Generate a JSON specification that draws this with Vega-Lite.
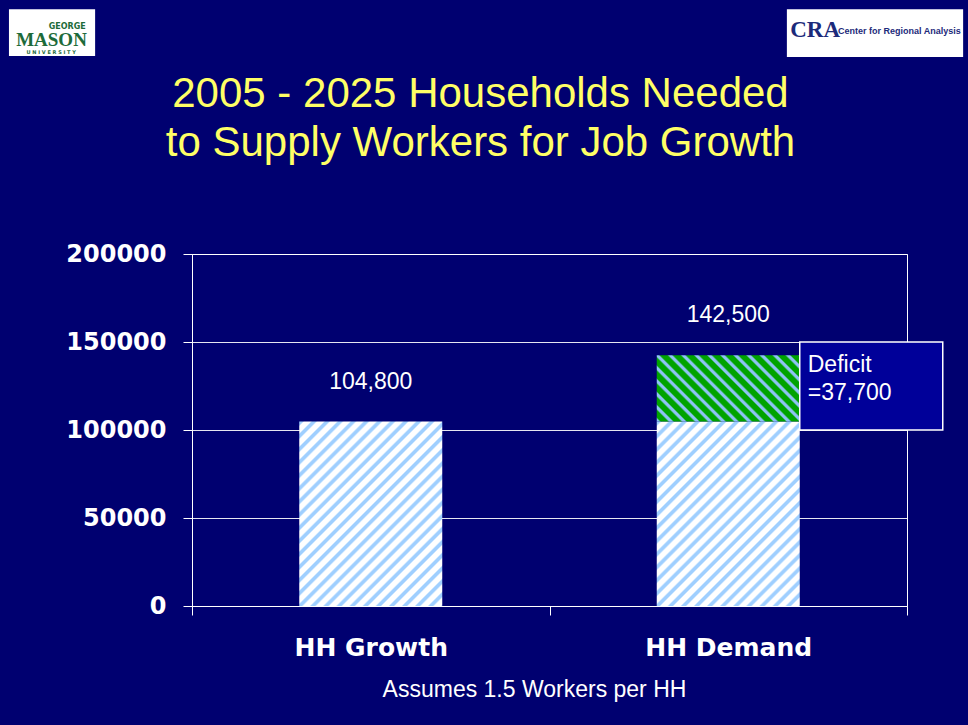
{
  "$schema": "https://vega.github.io/schema/vega-lite/v6.json",
  "width": 715,
  "height": 352,
  "autosize": "none",
  "padding": {"left": 192, "top": 254, "right": 61, "bottom": 119},
  "background": "#000070",
  "config": {
    "font": "Liberation Sans",
    "numberFormat": "d",
    "view": {"stroke": "#ffffff", "strokeWidth": 1, "fill": "#000070"},
    "axisY": {
      "labelFont": "DejaVu Sans",
      "labelFontWeight": "bold",
      "labelFontSize": 24,
      "labelColor": "#ffffff",
      "labelPadding": 17,
      "tickColor": "#ffffff",
      "tickSize": 9,
      "tickCount": 4,
      "domainColor": "#ffffff",
      "grid": true,
      "gridColor": "#ffffff",
      "gridOpacity": 0.9
    }
  },
  "title": {
    "text": ["2005 - 2025 Households Needed", "to Supply Workers for Job Growth"],
    "color": "#ffff66",
    "font": "Liberation Sans",
    "fontSize": 42,
    "fontWeight": "normal",
    "lineHeight": 49,
    "anchor": "middle",
    "baseline": "bottom",
    "dx": -69,
    "offset": -198
  },
  "data": {
    "values": [
      {"category": "HH Growth", "segment": "Growth", "value": 104800},
      {"category": "HH Demand", "segment": "Growth", "value": 104800},
      {"category": "HH Demand", "segment": "Deficit", "value": 37700}
    ]
  },
  "transform": [
    {"stack": "value", "groupby": ["category"], "sort": [{"field": "segment", "order": "descending"}], "as": ["v0", "v1"]}
  ],
  "resolve": {"scale": {"x": "independent"}},
  "layer": [
    {
      "transform": [{"filter": "datum.segment === 'Growth'"}],
      "mark": {
        "type": "bar",
        "width": {"band": 0.4},
        "fill": {
          "gradient": "linear",
          "x1": 0, "y1": 0, "x2": 0.8597, "y2": 1.1088,
          "stops": [
            {"offset": 0, "color": "#9fcfff"}, {"offset": 0.01, "color": "#9fcfff"}, {"offset": 0.016, "color": "#ffffff"}, {"offset": 0.034, "color": "#ffffff"},
            {"offset": 0.04, "color": "#9fcfff"}, {"offset": 0.05, "color": "#9fcfff"}, {"offset": 0.056, "color": "#ffffff"}, {"offset": 0.074, "color": "#ffffff"},
            {"offset": 0.08, "color": "#9fcfff"}, {"offset": 0.09, "color": "#9fcfff"}, {"offset": 0.096, "color": "#ffffff"}, {"offset": 0.114, "color": "#ffffff"},
            {"offset": 0.12, "color": "#9fcfff"}, {"offset": 0.13, "color": "#9fcfff"}, {"offset": 0.136, "color": "#ffffff"}, {"offset": 0.154, "color": "#ffffff"},
            {"offset": 0.16, "color": "#9fcfff"}, {"offset": 0.17, "color": "#9fcfff"}, {"offset": 0.176, "color": "#ffffff"}, {"offset": 0.194, "color": "#ffffff"},
            {"offset": 0.2, "color": "#9fcfff"}, {"offset": 0.21, "color": "#9fcfff"}, {"offset": 0.216, "color": "#ffffff"}, {"offset": 0.234, "color": "#ffffff"},
            {"offset": 0.24, "color": "#9fcfff"}, {"offset": 0.25, "color": "#9fcfff"}, {"offset": 0.256, "color": "#ffffff"}, {"offset": 0.274, "color": "#ffffff"},
            {"offset": 0.28, "color": "#9fcfff"}, {"offset": 0.29, "color": "#9fcfff"}, {"offset": 0.296, "color": "#ffffff"}, {"offset": 0.314, "color": "#ffffff"},
            {"offset": 0.32, "color": "#9fcfff"}, {"offset": 0.33, "color": "#9fcfff"}, {"offset": 0.336, "color": "#ffffff"}, {"offset": 0.354, "color": "#ffffff"},
            {"offset": 0.36, "color": "#9fcfff"}, {"offset": 0.37, "color": "#9fcfff"}, {"offset": 0.376, "color": "#ffffff"}, {"offset": 0.394, "color": "#ffffff"},
            {"offset": 0.4, "color": "#9fcfff"}, {"offset": 0.41, "color": "#9fcfff"}, {"offset": 0.416, "color": "#ffffff"}, {"offset": 0.434, "color": "#ffffff"},
            {"offset": 0.44, "color": "#9fcfff"}, {"offset": 0.45, "color": "#9fcfff"}, {"offset": 0.456, "color": "#ffffff"}, {"offset": 0.474, "color": "#ffffff"},
            {"offset": 0.48, "color": "#9fcfff"}, {"offset": 0.49, "color": "#9fcfff"}, {"offset": 0.496, "color": "#ffffff"}, {"offset": 0.514, "color": "#ffffff"},
            {"offset": 0.52, "color": "#9fcfff"}, {"offset": 0.53, "color": "#9fcfff"}, {"offset": 0.536, "color": "#ffffff"}, {"offset": 0.554, "color": "#ffffff"},
            {"offset": 0.56, "color": "#9fcfff"}, {"offset": 0.57, "color": "#9fcfff"}, {"offset": 0.576, "color": "#ffffff"}, {"offset": 0.594, "color": "#ffffff"},
            {"offset": 0.6, "color": "#9fcfff"}, {"offset": 0.61, "color": "#9fcfff"}, {"offset": 0.616, "color": "#ffffff"}, {"offset": 0.634, "color": "#ffffff"},
            {"offset": 0.64, "color": "#9fcfff"}, {"offset": 0.65, "color": "#9fcfff"}, {"offset": 0.656, "color": "#ffffff"}, {"offset": 0.674, "color": "#ffffff"},
            {"offset": 0.68, "color": "#9fcfff"}, {"offset": 0.69, "color": "#9fcfff"}, {"offset": 0.696, "color": "#ffffff"}, {"offset": 0.714, "color": "#ffffff"},
            {"offset": 0.72, "color": "#9fcfff"}, {"offset": 0.73, "color": "#9fcfff"}, {"offset": 0.736, "color": "#ffffff"}, {"offset": 0.754, "color": "#ffffff"},
            {"offset": 0.76, "color": "#9fcfff"}, {"offset": 0.77, "color": "#9fcfff"}, {"offset": 0.776, "color": "#ffffff"}, {"offset": 0.794, "color": "#ffffff"},
            {"offset": 0.8, "color": "#9fcfff"}, {"offset": 0.81, "color": "#9fcfff"}, {"offset": 0.816, "color": "#ffffff"}, {"offset": 0.834, "color": "#ffffff"},
            {"offset": 0.84, "color": "#9fcfff"}, {"offset": 0.85, "color": "#9fcfff"}, {"offset": 0.856, "color": "#ffffff"}, {"offset": 0.874, "color": "#ffffff"},
            {"offset": 0.88, "color": "#9fcfff"}, {"offset": 0.89, "color": "#9fcfff"}, {"offset": 0.896, "color": "#ffffff"}, {"offset": 0.914, "color": "#ffffff"},
            {"offset": 0.92, "color": "#9fcfff"}, {"offset": 0.93, "color": "#9fcfff"}, {"offset": 0.936, "color": "#ffffff"}, {"offset": 0.954, "color": "#ffffff"},
            {"offset": 0.96, "color": "#9fcfff"}, {"offset": 0.97, "color": "#9fcfff"}, {"offset": 0.976, "color": "#ffffff"}, {"offset": 0.994, "color": "#ffffff"},
            {"offset": 1, "color": "#9fcfff"}
          ]
        }
      },
      "encoding": {
        "x": {
          "field": "category",
          "type": "nominal",
          "scale": {"domain": ["HH Growth", "HH Demand"], "paddingInner": 0, "paddingOuter": 0},
          "title": "Assumes 1.5 Workers per HH",
          "axis": {
            "labelAngle": 0,
            "labelFont": "DejaVu Sans",
            "labelFontWeight": "bold",
            "labelFontSize": 25,
            "labelColor": "#ffffff",
            "labelPadding": 20,
            "tickBand": "extent",
            "tickColor": "#ffffff",
            "tickSize": 9,
            "domainColor": "#ffffff",
            "grid": false,
            "titleFont": "Liberation Sans",
            "titleFontSize": 23,
            "titleFontWeight": "normal",
            "titleColor": "#ffffff",
            "titleX": 342,
            "titlePadding": 18
          }
        },
        "y": {"field": "v1", "type": "quantitative", "scale": {"domain": [0, 200000], "nice": false}, "title": null},
        "y2": {"field": "v0"}
      }
    },
    {
      "transform": [{"filter": "datum.segment === 'Deficit'"}],
      "mark": {
        "type": "bar",
        "width": {"band": 0.4},
        "fill": {
          "gradient": "linear",
          "x1": 0, "y1": 1, "x2": 1.2046, "y2": 0.4411,
          "stops": [
            {"offset": 0, "color": "#8fc3f5"}, {"offset": 0.0125, "color": "#8fc3f5"}, {"offset": 0.0219, "color": "#00a300"}, {"offset": 0.0531, "color": "#00a300"},
            {"offset": 0.0625, "color": "#8fc3f5"}, {"offset": 0.075, "color": "#8fc3f5"}, {"offset": 0.0844, "color": "#00a300"}, {"offset": 0.1156, "color": "#00a300"},
            {"offset": 0.125, "color": "#8fc3f5"}, {"offset": 0.1375, "color": "#8fc3f5"}, {"offset": 0.1469, "color": "#00a300"}, {"offset": 0.1781, "color": "#00a300"},
            {"offset": 0.1875, "color": "#8fc3f5"}, {"offset": 0.2, "color": "#8fc3f5"}, {"offset": 0.2094, "color": "#00a300"}, {"offset": 0.2406, "color": "#00a300"},
            {"offset": 0.25, "color": "#8fc3f5"}, {"offset": 0.2625, "color": "#8fc3f5"}, {"offset": 0.2719, "color": "#00a300"}, {"offset": 0.3031, "color": "#00a300"},
            {"offset": 0.3125, "color": "#8fc3f5"}, {"offset": 0.325, "color": "#8fc3f5"}, {"offset": 0.3344, "color": "#00a300"}, {"offset": 0.3656, "color": "#00a300"},
            {"offset": 0.375, "color": "#8fc3f5"}, {"offset": 0.3875, "color": "#8fc3f5"}, {"offset": 0.3969, "color": "#00a300"}, {"offset": 0.4281, "color": "#00a300"},
            {"offset": 0.4375, "color": "#8fc3f5"}, {"offset": 0.45, "color": "#8fc3f5"}, {"offset": 0.4594, "color": "#00a300"}, {"offset": 0.4906, "color": "#00a300"},
            {"offset": 0.5, "color": "#8fc3f5"}, {"offset": 0.5125, "color": "#8fc3f5"}, {"offset": 0.5219, "color": "#00a300"}, {"offset": 0.5531, "color": "#00a300"},
            {"offset": 0.5625, "color": "#8fc3f5"}, {"offset": 0.575, "color": "#8fc3f5"}, {"offset": 0.5844, "color": "#00a300"}, {"offset": 0.6156, "color": "#00a300"},
            {"offset": 0.625, "color": "#8fc3f5"}, {"offset": 0.6375, "color": "#8fc3f5"}, {"offset": 0.6469, "color": "#00a300"}, {"offset": 0.6781, "color": "#00a300"},
            {"offset": 0.6875, "color": "#8fc3f5"}, {"offset": 0.7, "color": "#8fc3f5"}, {"offset": 0.7094, "color": "#00a300"}, {"offset": 0.7406, "color": "#00a300"},
            {"offset": 0.75, "color": "#8fc3f5"}, {"offset": 0.7625, "color": "#8fc3f5"}, {"offset": 0.7719, "color": "#00a300"}, {"offset": 0.8031, "color": "#00a300"},
            {"offset": 0.8125, "color": "#8fc3f5"}, {"offset": 0.825, "color": "#8fc3f5"}, {"offset": 0.8344, "color": "#00a300"}, {"offset": 0.8656, "color": "#00a300"},
            {"offset": 0.875, "color": "#8fc3f5"}, {"offset": 0.8875, "color": "#8fc3f5"}, {"offset": 0.8969, "color": "#00a300"}, {"offset": 0.9281, "color": "#00a300"},
            {"offset": 0.9375, "color": "#8fc3f5"}, {"offset": 0.95, "color": "#8fc3f5"}, {"offset": 0.9594, "color": "#00a300"}, {"offset": 0.9906, "color": "#00a300"},
            {"offset": 1, "color": "#8fc3f5"}
          ]
        }
      },
      "encoding": {
        "x": {"field": "category", "type": "nominal", "scale": {"domain": ["HH Growth", "HH Demand"], "paddingInner": 0, "paddingOuter": 0}, "axis": null},
        "y": {"field": "v1", "type": "quantitative", "scale": {"domain": [0, 200000], "nice": false}, "title": null},
        "y2": {"field": "v0"}
      }
    },
    {
      "transform": [
        {"aggregate": [{"op": "sum", "field": "value", "as": "total"}], "groupby": ["category"]}
      ],
      "mark": {"type": "text", "color": "#ffffff", "font": "Liberation Sans", "fontSize": 23, "baseline": "middle", "dy": -40},
      "encoding": {
        "x": {"field": "category", "type": "nominal", "scale": {"domain": ["HH Growth", "HH Demand"], "paddingInner": 0, "paddingOuter": 0}, "axis": null},
        "y": {"field": "total", "type": "quantitative", "scale": {"domain": [0, 200000], "nice": false}, "title": null},
        "text": {"field": "total", "type": "quantitative", "format": ","}
      }
    },
    {
      "transform": [{"filter": "datum.segment === 'Deficit'"}],
      "mark": {"type": "rect", "fill": "#000099", "stroke": "#ffffff", "strokeWidth": 1.5},
      "encoding": {
        "x": {"datum": 1.7, "type": "quantitative", "scale": {"domain": [0, 2], "nice": false, "zero": false}, "axis": null},
        "x2": {"datum": 2.1},
        "y": {"datum": 150000, "type": "quantitative", "scale": {"domain": [0, 200000], "nice": false}, "title": null},
        "y2": {"datum": 100000}
      }
    },
    {
      "transform": [
        {"filter": "datum.segment === 'Deficit'"},
        {"calculate": "['Deficit', '=' + format(datum.value, ',')]", "as": "label"}
      ],
      "mark": {"type": "text", "align": "left", "baseline": "alphabetic", "dx": 8, "color": "#ffffff", "font": "Liberation Sans", "fontSize": 23, "lineHeight": 28},
      "encoding": {
        "x": {"datum": 1.7, "type": "quantitative", "scale": {"domain": [0, 2], "nice": false, "zero": false}, "axis": null},
        "y": {"datum": 133000, "type": "quantitative", "scale": {"domain": [0, 200000], "nice": false}, "title": null},
        "text": {"field": "label"}
      }
    },
    {
      "data": {"values": [{"logo": "George Mason University"}]},
      "mark": {"type": "rect", "fill": "#ffffff"},
      "encoding": {
        "x": {"datum": -0.512, "type": "quantitative", "scale": {"domain": [0, 2], "nice": false, "zero": false}, "axis": null},
        "x2": {"datum": -0.271},
        "y": {"datum": 339000, "type": "quantitative", "scale": {"domain": [0, 200000], "nice": false}, "title": null},
        "y2": {"datum": 312500}
      }
    },
    {
      "data": {"values": [{"logo": "George Mason University"}]},
      "mark": {"type": "text", "text": "GEORGE", "font": "DejaVu Sans", "fontWeight": "bold", "fontSize": 8, "color": "#1d6b3a", "align": "center", "baseline": "middle"},
      "encoding": {
        "x": {"datum": -0.349, "type": "quantitative", "scale": {"domain": [0, 2], "nice": false, "zero": false}, "axis": null},
        "y": {"datum": 329200, "type": "quantitative", "scale": {"domain": [0, 200000], "nice": false}, "title": null}
      }
    },
    {
      "data": {"values": [{"logo": "George Mason University"}]},
      "mark": {"type": "text", "text": "MASON", "font": "Liberation Serif", "fontWeight": "bold", "fontSize": 19, "color": "#1d6b3a", "align": "center", "baseline": "middle"},
      "encoding": {
        "x": {"datum": -0.393, "type": "quantitative", "scale": {"domain": [0, 2], "nice": false, "zero": false}, "axis": null},
        "y": {"datum": 321600, "type": "quantitative", "scale": {"domain": [0, 200000], "nice": false}, "title": null}
      }
    },
    {
      "data": {"values": [{"logo": "George Mason University"}]},
      "mark": {"type": "text", "text": "U N I V E R S I T Y", "font": "DejaVu Sans", "fontWeight": "bold", "fontSize": 5, "color": "#1d6b3a", "align": "center", "baseline": "middle"},
      "encoding": {
        "x": {"datum": -0.394, "type": "quantitative", "scale": {"domain": [0, 2], "nice": false, "zero": false}, "axis": null},
        "y": {"datum": 314800, "type": "quantitative", "scale": {"domain": [0, 200000], "nice": false}, "title": null}
      }
    },
    {
      "data": {"values": [{"logo": "Center for Regional Analysis"}]},
      "mark": {"type": "rect", "fill": "#ffffff"},
      "encoding": {
        "x": {"datum": 1.664, "type": "quantitative", "scale": {"domain": [0, 2], "nice": false, "zero": false}, "axis": null},
        "x2": {"datum": 2.157},
        "y": {"datum": 339000, "type": "quantitative", "scale": {"domain": [0, 200000], "nice": false}, "title": null},
        "y2": {"datum": 312000}
      }
    },
    {
      "data": {"values": [{"logo": "Center for Regional Analysis"}]},
      "mark": {"type": "text", "text": "CRA", "font": "Liberation Serif", "fontWeight": "bold", "fontSize": 23, "color": "#1c2a7a", "align": "center", "baseline": "middle"},
      "encoding": {
        "x": {"datum": 1.743, "type": "quantitative", "scale": {"domain": [0, 2], "nice": false, "zero": false}, "axis": null},
        "y": {"datum": 327300, "type": "quantitative", "scale": {"domain": [0, 200000], "nice": false}, "title": null}
      }
    },
    {
      "data": {"values": [{"logo": "Center for Regional Analysis"}]},
      "mark": {"type": "text", "text": "Center for Regional Analysis", "font": "Liberation Sans", "fontWeight": "bold", "fontSize": 9, "color": "#1c2a7a", "align": "left", "baseline": "alphabetic"},
      "encoding": {
        "x": {"datum": 1.807, "type": "quantitative", "scale": {"domain": [0, 2], "nice": false, "zero": false}, "axis": null},
        "y": {"datum": 325000, "type": "quantitative", "scale": {"domain": [0, 200000], "nice": false}, "title": null}
      }
    }
  ]
}
